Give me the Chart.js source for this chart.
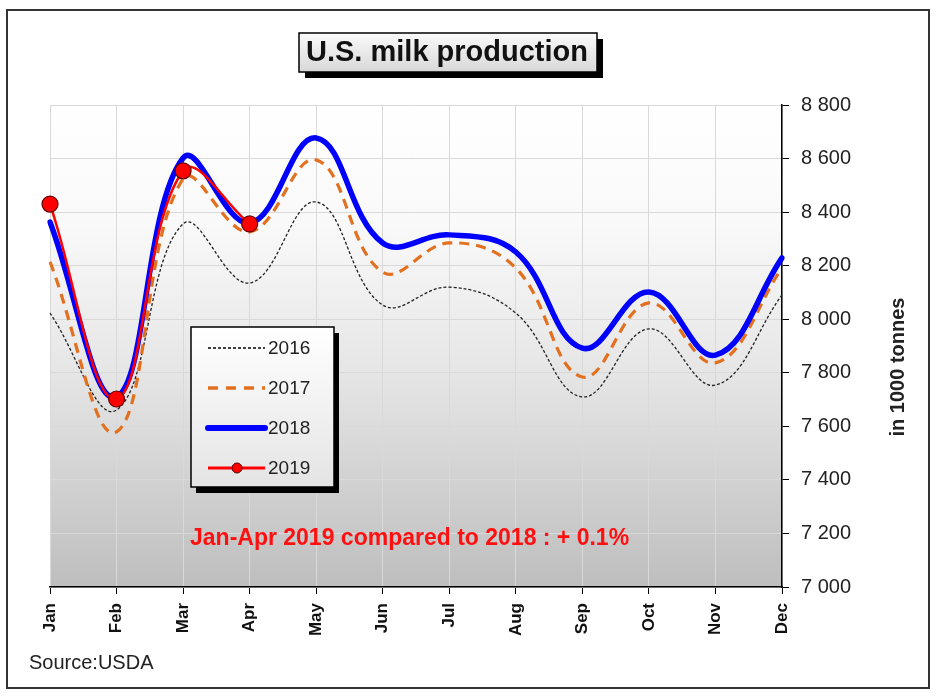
<!DOCTYPE html>
<html>
<head>
<meta charset="utf-8">
<script src="https://cdn.jsdelivr.net/npm/chart.js@4.4.0/dist/chart.umd.min.js"></script>
<style>
  html, body { margin: 0; padding: 0; background: #fff; }
</style>
</head>
<body>
<canvas id="milk" width="945" height="697"></canvas>
<script>
// data, 1000 tonnes
var months = ['Jan', 'Feb', 'Mar', 'Apr', 'May', 'Jun', 'Jul', 'Aug', 'Sep', 'Oct', 'Nov', 'Dec'];
var prod2016 = [8023, 7661, 8356, 8135, 8438, 8053, 8120, 8023, 7710, 7964, 7754, 8091];
var prod2017 = [8214, 7579, 8524, 8326, 8595, 8176, 8285, 8191, 7784, 8061, 7837, 8191];
var prod2018 = [8363, 7710, 8602, 8359, 8677, 8285, 8315, 8251, 7892, 8102, 7866, 8229];
var prod2019 = [8430, 7702, 8554, 8356];
var yMin = 7000, yMax = 8800, yStep = 200;

var FONT = 'Arial, "Liberation Sans", sans-serif';

function fmt(v) {
  var s = String(v);
  return s.length > 3 ? s.slice(0, s.length - 3) + ' ' + s.slice(-3) : s;
}

// background, frame, title, legend and notes
var decor = {
  id: 'decor',
  beforeDraw: function (chart) {
    var ctx = chart.ctx, a = chart.chartArea;
    ctx.save();
    ctx.fillStyle = '#fff';
    ctx.fillRect(0, 0, chart.width, chart.height);
    var g = ctx.createLinearGradient(0, a.top, 0, a.bottom);
    g.addColorStop(0, '#ffffff');
    g.addColorStop(0.25, '#f9f9f9');
    g.addColorStop(0.55, '#e6e6e6');
    g.addColorStop(1, '#bebebe');
    ctx.fillStyle = g;
    ctx.fillRect(a.left, a.top, a.right - a.left, a.bottom - a.top);
    ctx.restore();
  },
  afterDraw: function (chart) {
    var ctx = chart.ctx;
    ctx.save();

    // outer frame
    ctx.strokeStyle = '#333';
    ctx.lineWidth = 2;
    ctx.strokeRect(7, 10, 922, 678);

    // title box
    ctx.fillStyle = '#000';
    ctx.fillRect(305, 39, 298, 39);
    var tg = ctx.createLinearGradient(0, 33, 0, 72);
    tg.addColorStop(0, '#fafafa');
    tg.addColorStop(1, '#d8d8d8');
    ctx.fillStyle = tg;
    ctx.fillRect(299, 33, 298, 39);
    ctx.strokeStyle = '#000';
    ctx.lineWidth = 1.5;
    ctx.strokeRect(299, 33, 298, 39);
    ctx.fillStyle = '#111';
    ctx.font = 'bold 29px ' + FONT;
    ctx.textAlign = 'center';
    ctx.textBaseline = 'middle';
    ctx.fillText('U.S. milk production', 447, 53);

    // legend box
    ctx.fillStyle = '#000';
    ctx.fillRect(196, 333, 143, 160);
    var lg = ctx.createLinearGradient(0, 327, 0, 487);
    lg.addColorStop(0, '#ffffff');
    lg.addColorStop(1, '#e4e4e4');
    ctx.fillStyle = lg;
    ctx.fillRect(191, 327, 143, 160);
    ctx.strokeStyle = '#000';
    ctx.lineWidth = 1.5;
    ctx.strokeRect(191, 327, 143, 160);

    var items = [
      { label: '2016', color: '#000', width: 1.3, dash: [3, 2], y: 348 },
      { label: '2017', color: '#e2701f', width: 3.5, dash: [10, 8], y: 388 },
      { label: '2018', color: '#0000ff', width: 6, dash: [], y: 428 },
      { label: '2019', color: '#ff0000', width: 3, dash: [], y: 468, dot: true }
    ];
    items.forEach(function (it) {
      ctx.beginPath();
      ctx.setLineDash(it.dash);
      ctx.strokeStyle = it.color;
      ctx.lineWidth = it.width;
      ctx.lineCap = it.label === '2018' ? 'round' : 'butt';
      ctx.moveTo(208, it.y);
      ctx.lineTo(265, it.y);
      ctx.stroke();
      ctx.setLineDash([]);
      if (it.dot) {
        ctx.beginPath();
        ctx.arc(237, it.y, 5, 0, Math.PI * 2);
        ctx.fillStyle = '#ff0000';
        ctx.fill();
        ctx.strokeStyle = '#500';
        ctx.lineWidth = 1;
        ctx.stroke();
      }
      ctx.fillStyle = '#222';
      ctx.font = '19px ' + FONT;
      ctx.textAlign = 'left';
      ctx.textBaseline = 'middle';
      ctx.fillText(it.label, 268, it.y + 1);
    });

    // note
    ctx.fillStyle = '#ff1010';
    ctx.font = 'bold 23px ' + FONT;
    ctx.textAlign = 'left';
    ctx.textBaseline = 'middle';
    ctx.fillText('Jan-Apr 2019 compared to 2018 : + 0.1%', 190, 539);

    // source
    ctx.fillStyle = '#222';
    ctx.font = '20px ' + FONT;
    ctx.textBaseline = 'middle';
    ctx.fillText('Source:USDA', 29, 663);

    // y axis title
    ctx.translate(898, 367);
    ctx.rotate(-Math.PI / 2);
    ctx.fillStyle = '#222';
    ctx.font = 'bold 20px ' + FONT;
    ctx.textAlign = 'center';
    ctx.fillText('in 1000 tonnes', 0, 0);

    ctx.restore();
  }
};

new Chart(document.getElementById('milk').getContext('2d'), {
  type: 'line',
  data: {
    labels: months,
    datasets: [
      {
        label: '2019', data: prod2019, order: 0,
        borderColor: '#ff0000', borderWidth: 2.5,
        pointRadius: 8, pointBackgroundColor: '#ff0000',
        pointBorderColor: '#600', pointBorderWidth: 1.2,
        tension: 0.4
      },
      {
        label: '2018', data: prod2018, order: 1,
        borderColor: '#0000ff', borderWidth: 5.5,
        pointRadius: 0, tension: 0.4, borderCapStyle: 'round'
      },
      {
        label: '2017', data: prod2017, order: 2,
        borderColor: '#e2701f', borderWidth: 3.2, borderDash: [10, 7],
        pointRadius: 0, tension: 0.4
      },
      {
        label: '2016', data: prod2016, order: 3,
        borderColor: '#222', borderWidth: 1.3, borderDash: [3, 2],
        pointRadius: 0, tension: 0.4
      }
    ]
  },
  options: {
    responsive: false,
    animation: false,
    layout: { padding: { left: 50, top: 105, right: 0, bottom: 0 } },
    plugins: {
      legend: { display: false },
      title: { display: false },
      tooltip: { enabled: false }
    },
    scales: {
      x: {
        offset: false,
        grid: { color: '#d9d9d9', tickColor: '#000', tickLength: 7, drawTicks: true },
        border: { color: '#000', width: 1.5 },
        ticks: {
          color: '#111', minRotation: 90, maxRotation: 90, padding: 9,
          font: { family: FONT, size: 17, weight: 'bold' }
        },
        afterFit: function (s) { s.height = 697 - 587; }
      },
      y: {
        position: 'right',
        min: yMin, max: yMax,
        grid: { color: '#d9d9d9', tickColor: '#000', tickLength: 7 },
        border: { color: '#000', width: 1.5 },
        ticks: {
          stepSize: yStep, color: '#222', padding: 12,
          font: { family: FONT, size: 20 },
          callback: function (v) { return fmt(v); }
        },
        afterFit: function (s) { s.width = 945 - 782; }
      }
    }
  },
  plugins: [decor]
});
</script>
</body>
</html>
